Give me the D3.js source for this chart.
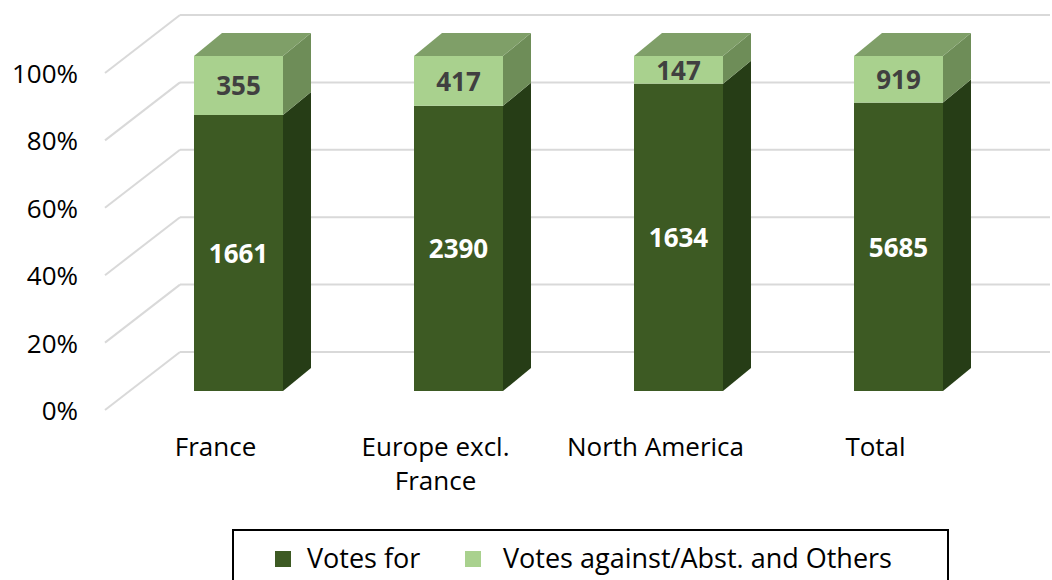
<!DOCTYPE html>
<html>
<head>
<meta charset="utf-8">
<script src="https://cdn.jsdelivr.net/npm/d3@7"></script>
<style>
  html, body { margin: 0; padding: 0; background: #fff; }
  svg { display: block; font-family: "Open Sans", sans-serif; }
</style>
</head>
<body>
<svg id="chart" width="1052" height="580"></svg>
<script>
// ---- data ----
const categories = ["France", "Europe excl.\nFrance", "North America", "Total"];
const votesFor = [1661, 2390, 1634, 5685];
const votesAgainst = [355, 417, 147, 919];
const tickValues = [0, 0.2, 0.4, 0.6, 0.8, 1.0];
const seriesNames = ["Votes for", "Votes against/Abst. and Others"];

// ---- styles ----
const colFront = ["#3d5a23", "#a9d18e"];
const colSide = ["#263d16", "#6e8d58"];
const colTop = ["#56753a", "#7f9f68"];

const svg = d3.select("#chart");

// back wall scale, front floor scale, bar front-face scale
const yBack = d3.scaleLinear().domain([0, 1]).range([352, 15]);
const yFront = d3.scaleLinear().domain([0, 1]).range([410, 73]);
const yBar = d3.scaleLinear().domain([0, 1]).range([391, 56]);
const x = d3.scalePoint().domain(categories).range([238.5, 898.5]);
const barW = 89, depthDx = 28, depthDy = -23;
const wallLeft = 180, wallRight = 1050, sideDx = -75;

// gridlines
const grid = svg.append("g");
tickValues.forEach(t => {
  grid.append("line")
    .attr("x1", wallLeft).attr("x2", wallRight)
    .attr("y1", yBack(t)).attr("y2", yBack(t))
    .attr("stroke", "#d9d9d9").attr("stroke-width", 2);
  grid.append("line")
    .attr("x1", wallLeft).attr("y1", yBack(t))
    .attr("x2", wallLeft + sideDx).attr("y2", yFront(t))
    .attr("stroke", "#d9d9d9").attr("stroke-width", 2);
});

// y tick labels
svg.append("g").selectAll("text").data(tickValues).join("text")
  .attr("x", 78).attr("y", d => yFront(d))
  .attr("text-anchor", "end").attr("dominant-baseline", "central")
  .attr("font-size", 26).attr("fill", "#000")
  .text(d => d3.format(".0%")(d));

// bars
const bars = svg.append("g");
categories.forEach((c, i) => {
  const total = votesFor[i] + votesAgainst[i];
  const segs = [
    { v0: 0, v1: votesFor[i] / total, val: votesFor[i], k: 0 },
    { v0: votesFor[i] / total, v1: 1, val: votesAgainst[i], k: 1 }
  ];
  const xl = x(c) - barW / 2, xr = x(c) + barW / 2;
  const g = bars.append("g");
  segs.forEach(s => {
    g.append("rect")
      .attr("x", xl).attr("y", yBar(s.v1))
      .attr("width", barW).attr("height", yBar(s.v0) - yBar(s.v1))
      .attr("fill", colFront[s.k]);
    const side = [[xr, yBar(s.v0)], [xr, yBar(s.v1)],
                  [xr + depthDx, yBar(s.v1) + depthDy], [xr + depthDx, yBar(s.v0) + depthDy]];
    g.append("polygon").attr("points", side.map(p => p.join(",")).join(" "))
      .attr("fill", colSide[s.k]);
  });
  const top = [[xl, yBar(1)], [xr, yBar(1)], [xr + depthDx, yBar(1) + depthDy], [xl + depthDx, yBar(1) + depthDy]];
  g.append("polygon").attr("points", top.map(p => p.join(",")).join(" "))
    .attr("fill", colTop[1]);
  segs.forEach(s => {
    g.append("text")
      .attr("x", x(c)).attr("y", (yBar(s.v0) + yBar(s.v1)) / 2)
      .attr("text-anchor", "middle").attr("dominant-baseline", "central")
      .attr("font-size", 26).attr("font-weight", "bold")
      .attr("fill", s.k === 0 ? "#ffffff" : "#404040")
      .text(s.val);
  });
});

// category labels
categories.forEach(c => {
  const lines = c.split("\n");
  const t = svg.append("text")
    .attr("text-anchor", "middle").attr("font-size", 26).attr("fill", "#000");
  lines.forEach((ln, j) => {
    t.append("tspan").attr("x", x(c) - 23).attr("y", 456 + j * 34).text(ln);
  });
});

// legend
const lg = svg.append("g");
lg.append("rect").attr("x", 233).attr("y", 530).attr("width", 715).attr("height", 70)
  .attr("fill", "#fff").attr("stroke", "#000").attr("stroke-width", 2);
const legX = [275, 465];
const legTextX = [307, 503];
seriesNames.forEach((n, k) => {
  lg.append("rect").attr("x", legX[k]).attr("y", 551).attr("width", 16).attr("height", 16)
    .attr("fill", colFront[k]);
  lg.append("text").attr("x", legTextX[k]).attr("y", 568)
    .attr("font-size", 27).attr("fill", "#000").text(n);
});
</script>
</body>
</html>
